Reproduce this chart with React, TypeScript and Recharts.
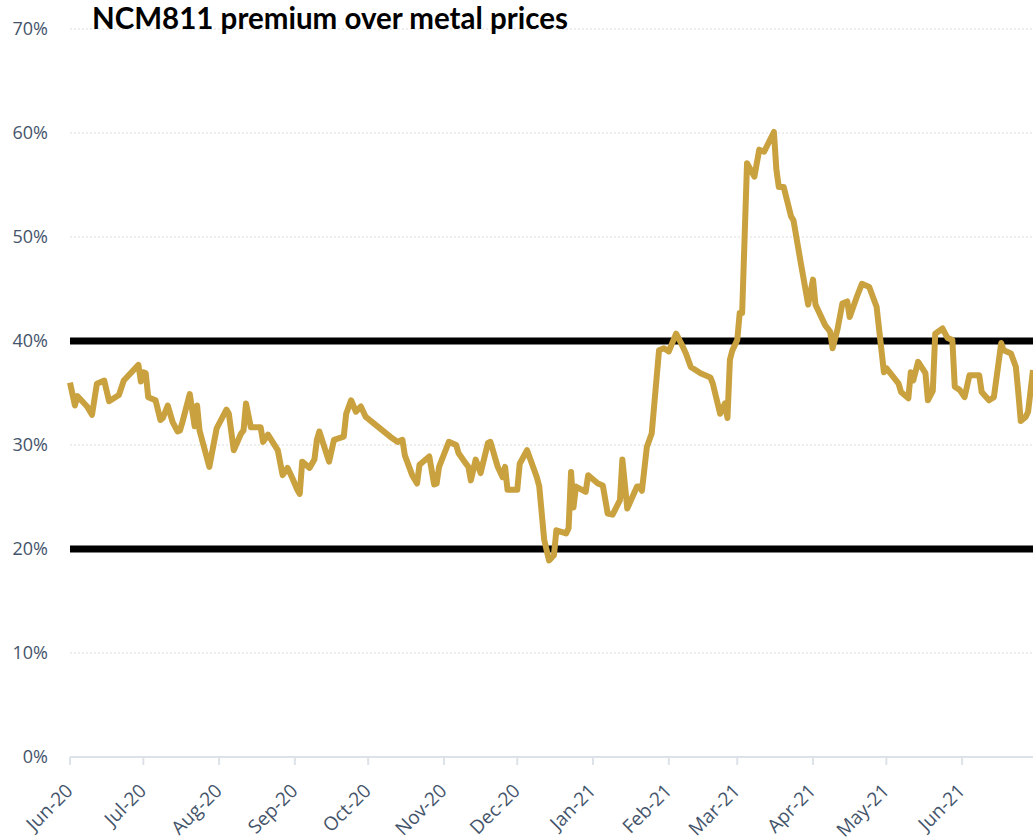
import React from "react";
import { CartesianGrid, Line, LineChart, ReferenceLine, XAxis, YAxis } from "recharts";

// NCM811 premium over metal prices
const dates = [
  "2020-06-01", "2020-06-03", "2020-06-04", "2020-06-06", "2020-06-08", "2020-06-10", "2020-06-12",
  "2020-06-15", "2020-06-17", "2020-06-21", "2020-06-23", "2020-06-29", "2020-06-30", "2020-07-01",
  "2020-07-02", "2020-07-03", "2020-07-06", "2020-07-08", "2020-07-09", "2020-07-11", "2020-07-13",
  "2020-07-15", "2020-07-16", "2020-07-17", "2020-07-20", "2020-07-22", "2020-07-23", "2020-07-24",
  "2020-07-28", "2020-07-31", "2020-08-04", "2020-08-05", "2020-08-07", "2020-08-10", "2020-08-11",
  "2020-08-12", "2020-08-14", "2020-08-18", "2020-08-19", "2020-08-21", "2020-08-25", "2020-08-27",
  "2020-08-29", "2020-08-31", "2020-09-02", "2020-09-03", "2020-09-04", "2020-09-07", "2020-09-09",
  "2020-09-10", "2020-09-11", "2020-09-15", "2020-09-17", "2020-09-21", "2020-09-22", "2020-09-24",
  "2020-09-26", "2020-09-28", "2020-09-30", "2020-10-10", "2020-10-13", "2020-10-15", "2020-10-16",
  "2020-10-19", "2020-10-21", "2020-10-22", "2020-10-26", "2020-10-28", "2020-10-29", "2020-10-30",
  "2020-11-03", "2020-11-06", "2020-11-07", "2020-11-10", "2020-11-11", "2020-11-12", "2020-11-14",
  "2020-11-16", "2020-11-19", "2020-11-20", "2020-11-23", "2020-11-25", "2020-11-26", "2020-11-27",
  "2020-12-01", "2020-12-02", "2020-12-05", "2020-12-09", "2020-12-10", "2020-12-12", "2020-12-14",
  "2020-12-16", "2020-12-17", "2020-12-21", "2020-12-22", "2020-12-23", "2020-12-24", "2020-12-25",
  "2020-12-29", "2020-12-30", "2021-01-03", "2021-01-05", "2021-01-07", "2021-01-09", "2021-01-12",
  "2021-01-13", "2021-01-15", "2021-01-19", "2021-01-20", "2021-01-21", "2021-01-23", "2021-01-25",
  "2021-01-28", "2021-01-30", "2021-02-01", "2021-02-04", "2021-02-06", "2021-02-08", "2021-02-10",
  "2021-02-14", "2021-02-18", "2021-02-19", "2021-02-22", "2021-02-24", "2021-02-25", "2021-02-26",
  "2021-02-27", "2021-03-01", "2021-03-02", "2021-03-03", "2021-03-05", "2021-03-08", "2021-03-10",
  "2021-03-12", "2021-03-16", "2021-03-17", "2021-03-18", "2021-03-20", "2021-03-23", "2021-03-24",
  "2021-03-27", "2021-03-30", "2021-04-01", "2021-04-02", "2021-04-06", "2021-04-08", "2021-04-09",
  "2021-04-11", "2021-04-13", "2021-04-15", "2021-04-16", "2021-04-19", "2021-04-21", "2021-04-24",
  "2021-04-27", "2021-04-30", "2021-05-01", "2021-05-06", "2021-05-07", "2021-05-10", "2021-05-11",
  "2021-05-12", "2021-05-14", "2021-05-17", "2021-05-18", "2021-05-20", "2021-05-21", "2021-05-24",
  "2021-05-26", "2021-05-28", "2021-05-29", "2021-05-31", "2021-06-02", "2021-06-04", "2021-06-08",
  "2021-06-09", "2021-06-12", "2021-06-14", "2021-06-17", "2021-06-18", "2021-06-21", "2021-06-23",
  "2021-06-24", "2021-06-25", "2021-06-27", "2021-06-28", "2021-06-30",
];

const premium = [
  36.0, 33.8, 34.7, 34.2, 33.7, 32.9, 35.9,
  36.2, 34.2, 34.8, 36.2, 37.7, 36.1, 37.0,
  36.9, 34.6, 34.3, 32.4, 32.6, 33.8, 32.2,
  31.3, 31.4, 32.2, 34.9, 31.8, 33.8, 31.4,
  27.9, 31.6, 33.4, 33.0, 29.5, 31.1, 31.4,
  34.0, 31.7, 31.7, 30.3, 31.0, 29.5, 27.1,
  27.8, 26.8, 25.7, 25.3, 28.4, 27.8, 28.6,
  30.5, 31.3, 28.4, 30.5, 30.8, 33.0, 34.3,
  33.2, 33.7, 32.7, 30.8, 30.3, 30.5, 29.0,
  27.1, 26.3, 28.1, 28.9, 26.2, 26.3, 27.9,
  30.3, 30.0, 29.2, 28.2, 27.9, 26.6, 28.6,
  27.3, 30.2, 30.3, 27.9, 26.9, 27.9, 25.7,
  25.7, 28.2, 29.5, 26.9, 26.0, 20.9, 18.9,
  19.4, 21.8, 21.5, 22.0, 27.4, 24.0, 26.0,
  25.5, 27.1, 26.3, 26.1, 23.4, 23.3, 24.7,
  28.6, 23.9, 26.0, 26.0, 25.6, 29.8, 31.1,
  39.1, 39.3, 39.0, 40.7, 39.8, 38.8, 37.5,
  36.9, 36.5, 35.9, 33.0, 34.0, 32.6, 38.2,
  39.1, 40.1, 42.7, 42.7, 57.1, 55.8, 58.4,
  58.2, 60.1, 56.5, 54.8, 54.8, 52.0, 51.6,
  47.5, 43.5, 45.9, 43.5, 41.5, 40.9, 39.3,
  41.1, 43.6, 43.8, 42.3, 44.3, 45.5, 45.2,
  43.3, 37.0, 37.4, 35.9, 35.1, 34.5, 37.0,
  36.2, 38.0, 36.9, 34.3, 35.2, 40.7, 41.2,
  40.3, 40.1, 35.6, 35.3, 34.6, 36.7, 36.7,
  35.1, 34.3, 34.6, 39.8, 39.1, 38.8, 37.5,
  35.0, 32.3, 32.7, 33.2, 37.2,
];

const monthTicks = [
  "2020-06-01", "2020-07-01", "2020-08-01", "2020-09-01", "2020-10-01", "2020-11-01", "2020-12-01",
  "2021-01-01", "2021-02-01", "2021-03-01", "2021-04-01", "2021-05-01", "2021-06-01",
];
const monthLabels = [
  "Jun-20", "Jul-20", "Aug-20", "Sep-20", "Oct-20", "Nov-20", "Dec-20",
  "Jan-21", "Feb-21", "Mar-21", "Apr-21", "May-21", "Jun-21",
];
const yTicks = [0, 10, 20, 30, 40, 50, 60, 70];
const bandLines = [20, 40];

const toTime = (s: string) => Date.parse(s + "T00:00:00Z");
const data = dates.map((d, i) => ({ t: toTime(d), v: premium[i] }));
const tickTimes = monthTicks.map(toTime);
const xDomain = [toTime("2020-06-01"), toTime("2021-06-30")];

const GOLD = "#c9a13f";
const LABEL = "#44546a";
const FONT = "'Open Sans', 'DejaVu Sans', sans-serif";

const MonthTick = (props: any) => {
  const { x, y, payload } = props;
  const idx = tickTimes.indexOf(payload.value);
  return (
    <g transform={`translate(${x + 4},${y + 25})`}>
      <text
        textAnchor="end"
        transform="rotate(-45)"
        fill={LABEL}
        fontSize={19}
        fontFamily={FONT}
      >
        {monthLabels[idx] ?? ""}
      </text>
    </g>
  );
};

export default function App() {
  return (
    <div style={{ position: "absolute", left: 0, top: 0, width: 1033, height: 838, background: "#fff" }}>
      <LineChart
        width={1033}
        height={838}
        data={data}
        margin={{ top: 29, right: 0, bottom: 0, left: 0 }}
      >
        <CartesianGrid vertical={false} stroke="#dcdcdc" strokeDasharray="2 2" />
        <XAxis
          dataKey="t"
          type="number"
          domain={xDomain}
          ticks={tickTimes}
          height={81}
          interval={0}
          tick={<MonthTick />}
          tickSize={8}
          tickMargin={2}
          axisLine={{ stroke: "#dde2e8", strokeWidth: 2 }}
          tickLine={{ stroke: "#dde2e8", strokeWidth: 2 }}
        />
        <YAxis
          domain={[0, 70]}
          ticks={yTicks}
          width={70}
          axisLine={false}
          tickLine={false}
          tickSize={0}
          tickMargin={22}
          tickFormatter={(v: number) => `${v}%`}
          tick={{ fill: LABEL, fontSize: 18, fontFamily: FONT }}
        />
        {bandLines.map((v) => (
          <ReferenceLine key={v} y={v} stroke="#000" strokeWidth={7} />
        ))}
        <Line
          type="linear"
          dataKey="v"
          stroke={GOLD}
          strokeWidth={6}
          strokeLinejoin="round"
          dot={false}
          activeDot={false}
          isAnimationActive={false}
        />
      </LineChart>
      <div
        style={{
          position: "absolute",
          left: 92,
          top: 3,
          fontFamily: "Lato, 'Open Sans', sans-serif",
          fontWeight: 700,
          fontSize: 29.5,
          lineHeight: 1,
          color: "#000",
          whiteSpace: "nowrap",
        }}
      >
        NCM811 premium over metal prices
      </div>
    </div>
  );
}
